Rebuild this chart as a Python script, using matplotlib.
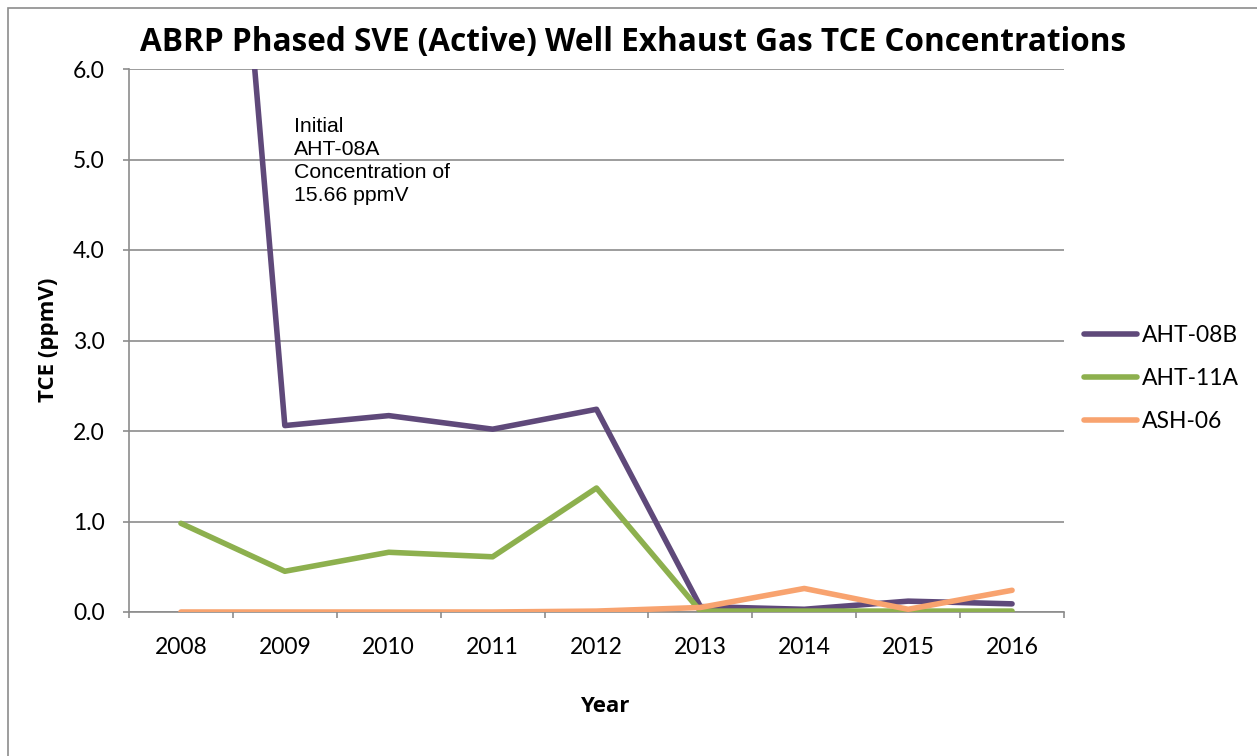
import matplotlib
matplotlib.use("Agg")
import matplotlib.pyplot as plt
from matplotlib.patches import Rectangle

years = ["2008", "2009", "2010", "2011", "2012", "2013", "2014", "2015", "2016"]
aht_08b = [15.66, 2.06, 2.17, 2.02, 2.24, 0.06, 0.03, 0.12, 0.09]
aht_11a = [0.98, 0.45, 0.66, 0.61, 1.37, 0.01, 0.01, 0.01, 0.01]
ash_06 = [0.0, 0.0, 0.0, 0.0, 0.01, 0.05, 0.26, 0.03, 0.24]
series_names = ["AHT-08B", "AHT-11A", "ASH-06"]
colors = ["#5F497A", "#8DB04E", "#F8A36F"]
yticks = [0.0, 1.0, 2.0, 3.0, 4.0, 5.0, 6.0]

W, H = 1257, 756
fig = plt.figure(figsize=(W / 100, H / 100), dpi=100)

# outer chart border
fig.add_artist(Rectangle((8 / W, -0.1), 1.2, (H - 8) / H + 0.1, transform=fig.transFigure,
                         fill=False, edgecolor="#8C8C8C", linewidth=1.2))

ax = fig.add_axes([129 / W, (H - 612) / H, (1064 - 129) / W, (612 - 69) / H])
x = list(range(len(years)))
for vals, name, c in zip([aht_08b, aht_11a, ash_06], series_names, colors):
    ax.plot(x, vals, color=c, linewidth=4, solid_capstyle="round", solid_joinstyle="round",
            label=name, zorder=3)

ax.set_xlim(-0.5, len(years) - 0.5)
ax.set_ylim(0, 6)
ax.set_yticks(yticks)
ax.set_yticklabels([f"{v:.1f}" for v in yticks], fontfamily="Lato", fontsize=16.5)
ax.yaxis.grid(True, color="#8C8C8C", linewidth=1.2)
ax.set_axisbelow(True)

ax.set_xticks(x)
ax.set_xticklabels(years, fontfamily="Lato", fontsize=16.5)
ax.set_xticks([i - 0.5 for i in range(len(years) + 1)], minor=True)
ax.tick_params(axis="x", which="major", length=0, pad=18)
ax.tick_params(axis="x", which="minor", length=4.5, color="#8C8C8C", width=1.2)
ax.tick_params(axis="y", length=4.5, color="#8C8C8C", width=1.2, pad=13)

for s in ["top", "right"]:
    ax.spines[s].set_visible(False)
for s in ["left", "bottom"]:
    ax.spines[s].set_color("#8C8C8C")
    ax.spines[s].set_linewidth(1.2)

ax.set_ylabel("TCE (ppmV)", fontfamily="Open Sans", fontweight="bold", fontsize=16)
ax.yaxis.set_label_coords((59 - 129) / (1064 - 129), (612 - 340) / (612 - 69))
fig.text(605 / W, 1 - 706 / H, "Year", ha="center", va="center",
         fontfamily="Open Sans", fontweight="bold", fontsize=16)
fig.text(633 / W, 1 - 42 / H, "ABRP Phased SVE (Active) Well Exhaust Gas TCE Concentrations",
         ha="center", va="center", fontfamily="Open Sans", fontweight="bold", fontsize=22.7)

fig.text(294 / W, 1 - 117 / H, "Initial\nAHT-08A\nConcentration of\n15.66 ppmV",
         ha="left", va="top", fontfamily="Liberation Sans", fontsize=15.3, linespacing=1.27)

leg = fig.legend(loc="upper left", bbox_to_anchor=(1075 / W, 1 - 316 / H),
                 frameon=False, prop={"family": "Lato", "size": 16.5},
                 handlelength=2.3, handletextpad=0.2, labelspacing=0.95, borderaxespad=0)

fig.savefig("out.png", dpi=100)
